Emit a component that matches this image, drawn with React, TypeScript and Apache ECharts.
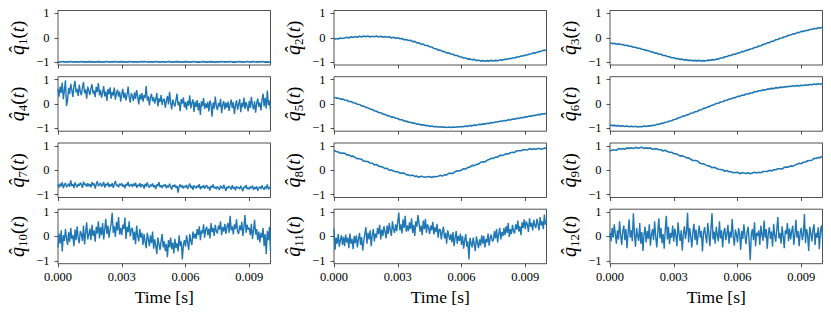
import React, { useEffect, useRef } from "react";
import * as echarts from "echarts";

// Sample times in milliseconds
const TIME_MS_COARSE = [
  0, 0.1, 0.2, 0.3, 0.4, 0.5, 0.6, 0.7, 0.8, 0.9, 1, 1.1, 1.2, 1.3, 1.4, 1.5, 1.6, 1.7, 1.8, 1.9,
  2, 2.1, 2.2, 2.3, 2.4, 2.5, 2.6, 2.7, 2.8, 2.9, 3, 3.1, 3.2, 3.3, 3.4, 3.5, 3.6, 3.7, 3.8, 3.9,
  4, 4.1, 4.2, 4.3, 4.4, 4.5, 4.6, 4.7, 4.8, 4.9, 5, 5.1, 5.2, 5.3, 5.4, 5.5, 5.6, 5.7, 5.8, 5.9,
  6, 6.1, 6.2, 6.3, 6.4, 6.5, 6.6, 6.7, 6.8, 6.9, 7, 7.1, 7.2, 7.3, 7.4, 7.5, 7.6, 7.7, 7.8, 7.9,
  8, 8.1, 8.2, 8.3, 8.4, 8.5, 8.6, 8.7, 8.8, 8.9, 9, 9.1, 9.2, 9.3, 9.4, 9.5, 9.6, 9.7, 9.8, 9.9,
  10,
];

const TIME_MS_FINE = [
  0, 0.05, 0.1, 0.15, 0.2, 0.25, 0.3, 0.35, 0.4, 0.45, 0.5, 0.55, 0.6, 0.65, 0.7, 0.75, 0.8, 0.85, 0.9, 0.95,
  1, 1.05, 1.1, 1.15, 1.2, 1.25, 1.3, 1.35, 1.4, 1.45, 1.5, 1.55, 1.6, 1.65, 1.7, 1.75, 1.8, 1.85, 1.9, 1.95,
  2, 2.05, 2.1, 2.15, 2.2, 2.25, 2.3, 2.35, 2.4, 2.45, 2.5, 2.55, 2.6, 2.65, 2.7, 2.75, 2.8, 2.85, 2.9, 2.95,
  3, 3.05, 3.1, 3.15, 3.2, 3.25, 3.3, 3.35, 3.4, 3.45, 3.5, 3.55, 3.6, 3.65, 3.7, 3.75, 3.8, 3.85, 3.9, 3.95,
  4, 4.05, 4.1, 4.15, 4.2, 4.25, 4.3, 4.35, 4.4, 4.45, 4.5, 4.55, 4.6, 4.65, 4.7, 4.75, 4.8, 4.85, 4.9, 4.95,
  5, 5.05, 5.1, 5.15, 5.2, 5.25, 5.3, 5.35, 5.4, 5.45, 5.5, 5.55, 5.6, 5.65, 5.7, 5.75, 5.8, 5.85, 5.9, 5.95,
  6, 6.05, 6.1, 6.15, 6.2, 6.25, 6.3, 6.35, 6.4, 6.45, 6.5, 6.55, 6.6, 6.65, 6.7, 6.75, 6.8, 6.85, 6.9, 6.95,
  7, 7.05, 7.1, 7.15, 7.2, 7.25, 7.3, 7.35, 7.4, 7.45, 7.5, 7.55, 7.6, 7.65, 7.7, 7.75, 7.8, 7.85, 7.9, 7.95,
  8, 8.05, 8.1, 8.15, 8.2, 8.25, 8.3, 8.35, 8.4, 8.45, 8.5, 8.55, 8.6, 8.65, 8.7, 8.75, 8.8, 8.85, 8.9, 8.95,
  9, 9.05, 9.1, 9.15, 9.2, 9.25, 9.3, 9.35, 9.4, 9.45, 9.5, 9.55, 9.6, 9.65, 9.7, 9.75, 9.8, 9.85, 9.9, 9.95,
  10,
];

const Q1 = [
  -0.99, -1.0, -0.98, -0.99, -1.0, -0.99, -0.98, -1.0, -0.99, -0.99,
  -1.0, -0.98, -0.99, -1.0, -0.99, -0.98, -0.99, -1.0, -0.99, -0.98,
  -0.99, -1.0, -0.99, -0.98, -1.0, -0.99, -0.99, -0.98, -1.0, -0.99,
  -0.98, -0.99, -1.0, -0.99, -0.98, -1.0, -0.99, -0.99, -1.0, -0.98,
  -0.99, -0.98, -1.0, -0.99, -0.99, -1.0, -0.98, -0.99, -1.0, -0.99,
  -0.99, -1.0, -0.98, -0.99, -1.0, -0.99, -0.98, -0.99, -1.0, -0.99,
  -0.98, -0.99, -1.0, -0.99, -0.98, -1.0, -0.99, -1.0, -0.98, -0.99,
  -1.0, -0.99, -0.98, -0.99, -1.0, -0.99, -0.99, -0.98, -1.0, -0.99,
  -0.99, -0.98, -1.0, -0.99, -1.0, -0.98, -0.99, -0.99, -1.0, -0.98,
  -1.0, -0.99, -0.98, -1.0, -0.99, -0.99, -0.98, -1.0, -0.99, -1.0,
  -0.99,
];

const Q2 = [
  -0.07, -0.03, -0.05, -0.01, -0.03, -0.01, 0.02, -0.01, 0.04, 0.01,
  0.05, 0.02, 0.06, 0.03, 0.07, 0.04, 0.07, 0.03, 0.06, 0.04,
  0.07, 0.03, 0.06, 0.02, 0.05, 0.02, 0.04, -0.01, 0.02, -0.02,
  0.0, -0.04, -0.03, -0.08, -0.07, -0.11, -0.1, -0.16, -0.15, -0.21,
  -0.21, -0.27, -0.26, -0.32, -0.32, -0.37, -0.38, -0.44, -0.45, -0.51,
  -0.51, -0.56, -0.57, -0.62, -0.62, -0.67, -0.68, -0.73, -0.73, -0.78,
  -0.79, -0.83, -0.83, -0.88, -0.87, -0.91, -0.89, -0.94, -0.92, -0.96,
  -0.94, -0.97, -0.94, -0.96, -0.93, -0.96, -0.93, -0.95, -0.91, -0.92,
  -0.89, -0.89, -0.86, -0.86, -0.83, -0.83, -0.79, -0.79, -0.75, -0.75,
  -0.71, -0.71, -0.67, -0.66, -0.62, -0.62, -0.58, -0.57, -0.53, -0.52,
  -0.49,
];

const Q3 = [
  -0.21, -0.24, -0.23, -0.27, -0.25, -0.28, -0.28, -0.32, -0.31, -0.35,
  -0.35, -0.39, -0.39, -0.43, -0.43, -0.47, -0.48, -0.52, -0.53, -0.57,
  -0.58, -0.63, -0.63, -0.68, -0.68, -0.73, -0.73, -0.77, -0.78, -0.82,
  -0.82, -0.86, -0.85, -0.89, -0.88, -0.92, -0.9, -0.93, -0.92, -0.95,
  -0.93, -0.95, -0.93, -0.96, -0.94, -0.95, -0.92, -0.93, -0.9, -0.91,
  -0.88, -0.88, -0.83, -0.83, -0.78, -0.78, -0.73, -0.73, -0.68, -0.68,
  -0.63, -0.62, -0.57, -0.57, -0.52, -0.51, -0.46, -0.45, -0.4, -0.39,
  -0.34, -0.33, -0.28, -0.26, -0.21, -0.2, -0.15, -0.14, -0.08, -0.07,
  -0.02, -0.01, 0.04, 0.05, 0.1, 0.11, 0.16, 0.16, 0.21, 0.21,
  0.26, 0.26, 0.3, 0.3, 0.34, 0.34, 0.38, 0.37, 0.41, 0.4,
  0.43,
];

const Q4 = [
  0.62, 0.3, 0.71, 0.45, 0.88, 0.2, 0.55, 0.97, -0.08, 0.15,
  0.66, 0.41, 0.83, 0.58, 0.29, 0.74, 0.95, 0.47, 0.62, 0.33,
  0.79, 0.5, 0.36, 0.69, 0.9, 0.44, 0.6, 0.22, 0.71, 0.53,
  0.37, 0.64, 0.81, 0.42, 0.55, 0.28, 0.7, 0.49, 0.86, 0.35,
  0.58, 0.26, 0.47, 0.73, 0.31, 0.52, 0.12, 0.61, 0.39, 0.68,
  0.22, 0.49, 0.35, 0.67, 0.18, 0.43, 0.59, 0.3, 0.51, 0.09,
  0.41, 0.62, 0.24, 0.46, 0.15, 0.38, 0.71, 0.28, 0.05, 0.44,
  0.33, 0.12, 0.48, 0.21, 0.57, 0.3, -0.02, 0.39, 0.18, 0.45,
  0.09, 0.36, 0.25, 0.74, 0.14, 0.31, -0.06, 0.27, 0.42, 0.11,
  0.28, 0.02, 0.19, 0.45, -0.1, 0.23, 0.08, 0.36, -0.04, 0.17,
  0.21, -0.15, 0.12, 0.33, -0.02, 0.5, 0.06, -0.22, 0.18, 0.03,
  -0.11, 0.15, 0.42, -0.05, 0.09, -0.3, 0.2, 0.01, 0.27, -0.14,
  0.08, -0.24, 0.13, -0.07, 0.35, -0.18, 0.04, 0.19, -0.33, 0.1,
  -0.12, 0.16, -0.27, 0.05, -0.45, 0.11, -0.09, 0.24, -0.2, 0.02,
  -0.16, 0.09, -0.31, 0.14, -0.02, -0.52, 0.06, -0.19, 0.3, -0.08,
  -0.25, 0.03, -0.11, 0.21, -0.38, -0.04, 0.12, -0.22, 0.05, -0.15,
  0.1, -0.29, -0.03, 0.18, -0.17, 0.07, -0.41, -0.06, 0.15, -0.24,
  -0.01, 0.2, -0.34, 0.04, -0.13, 0.26, -0.2, 0.08, -0.09, -0.3,
  0.13, -0.16, 0.29, -0.05, -0.22, 0.11, -0.36, 0.03, 0.22, -0.12,
  0.06, -0.27, 0.17, 0.42, -0.1, 0.25, -0.19, 0.55, -0.05, 0.14,
  -0.28,
];

const Q5 = [
  0.28, 0.24, 0.24, 0.2, 0.2, 0.16, 0.15, 0.1, 0.1, 0.05,
  0.04, -0.01, -0.02, -0.08, -0.09, -0.14, -0.16, -0.21, -0.23, -0.28,
  -0.3, -0.35, -0.36, -0.42, -0.43, -0.48, -0.49, -0.54, -0.54, -0.59,
  -0.6, -0.65, -0.65, -0.7, -0.7, -0.75, -0.75, -0.79, -0.79, -0.83,
  -0.83, -0.86, -0.86, -0.89, -0.89, -0.92, -0.91, -0.94, -0.93, -0.95,
  -0.94, -0.96, -0.95, -0.97, -0.95, -0.97, -0.95, -0.96, -0.94, -0.95,
  -0.93, -0.94, -0.91, -0.92, -0.89, -0.9, -0.87, -0.88, -0.84, -0.85,
  -0.82, -0.83, -0.79, -0.8, -0.76, -0.77, -0.74, -0.74, -0.71, -0.71,
  -0.68, -0.69, -0.65, -0.66, -0.62, -0.63, -0.59, -0.6, -0.56, -0.57,
  -0.53, -0.53, -0.5, -0.5, -0.47, -0.47, -0.43, -0.44, -0.4, -0.41,
  -0.38,
];

const Q6 = [
  -0.86, -0.89, -0.88, -0.9, -0.89, -0.92, -0.9, -0.93, -0.91, -0.94,
  -0.92, -0.94, -0.92, -0.95, -0.93, -0.94, -0.91, -0.93, -0.9, -0.91,
  -0.88, -0.88, -0.84, -0.84, -0.8, -0.8, -0.75, -0.74, -0.7, -0.69,
  -0.64, -0.63, -0.58, -0.56, -0.51, -0.5, -0.45, -0.44, -0.38, -0.37,
  -0.32, -0.31, -0.25, -0.24, -0.18, -0.17, -0.12, -0.1, -0.05, -0.03,
  0.02, 0.03, 0.08, 0.09, 0.14, 0.15, 0.2, 0.21, 0.25, 0.26,
  0.31, 0.31, 0.36, 0.36, 0.41, 0.41, 0.45, 0.45, 0.5, 0.5,
  0.54, 0.54, 0.58, 0.57, 0.61, 0.61, 0.64, 0.63, 0.67, 0.66,
  0.69, 0.68, 0.71, 0.7, 0.73, 0.72, 0.75, 0.73, 0.76, 0.74,
  0.77, 0.76, 0.79, 0.77, 0.8, 0.79, 0.82, 0.8, 0.83, 0.81,
  0.84,
];

const Q7 = [
  -0.58, -0.71, -0.55, -0.66, -0.49, -0.74, -0.6, -0.52, -0.69, -0.63,
  -0.55, -0.68, -0.42, -0.64, -0.57, -0.73, -0.5, -0.62, -0.7, -0.56,
  -0.64, -0.51, -0.59, -0.72, -0.47, -0.61, -0.55, -0.68, -0.53, -0.66,
  -0.57, -0.7, -0.49, -0.62, -0.54, -0.75, -0.58, -0.45, -0.65, -0.6,
  -0.52, -0.67, -0.61, -0.48, -0.71, -0.56, -0.63, -0.5, -0.69, -0.58,
  -0.66, -0.53, -0.72, -0.57, -0.44, -0.64, -0.6, -0.7, -0.55, -0.62,
  -0.54, -0.68, -0.59, -0.74, -0.56, -0.63, -0.48, -0.67, -0.61, -0.57,
  -0.69, -0.55, -0.64, -0.51, -0.72, -0.6, -0.66, -0.53, -0.7, -0.58,
  -0.62, -0.75, -0.56, -0.67, -0.5, -0.64, -0.71, -0.59, -0.66, -0.54,
  -0.7, -0.61, -0.77, -0.58, -0.65, -0.49, -0.69, -0.62, -0.73, -0.6,
  -0.66, -0.57, -0.74, -0.63, -0.7, -0.55, -0.68, -0.79, -0.61, -0.67,
  -0.59, -0.72, -0.64, -0.92, -0.66, -0.58, -0.71, -0.62, -0.75, -0.65,
  -0.7, -0.6, -0.77, -0.66, -0.55, -0.73, -0.64, -0.8, -0.62, -0.69,
  -0.74, -0.63, -0.71, -0.57, -0.79, -0.67, -0.72, -0.61, -0.76, -0.66,
  -0.62, -0.75, -0.68, -0.83, -0.64, -0.71, -0.58, -0.74, -0.69, -0.78,
  -0.66, -0.73, -0.81, -0.63, -0.7, -0.76, -0.6, -0.72, -0.85, -0.68,
  -0.74, -0.65, -0.71, -0.79, -0.62, -0.75, -0.69, -0.82, -0.66, -0.73,
  -0.7, -0.78, -0.64, -0.74, -0.86, -0.68, -0.72, -0.61, -0.77, -0.71,
  -0.79, -0.67, -0.74, -0.63, -0.81, -0.7, -0.76, -0.66, -0.84, -0.72,
  -0.68, -0.77, -0.62, -0.73, -0.8, -0.67, -0.75, -0.58, -0.79, -0.7,
  -0.76,
];

const Q8 = [
  0.82, 0.77, 0.75, 0.7, 0.71, 0.7, 0.63, 0.63, 0.57, 0.58,
  0.52, 0.47, 0.47, 0.45, 0.37, 0.37, 0.35, 0.3, 0.29, 0.22,
  0.24, 0.17, 0.15, 0.13, 0.07, 0.08, 0.0, 0.01, -0.03, -0.06,
  -0.06, -0.12, -0.12, -0.12, -0.18, -0.19, -0.23, -0.2, -0.25, -0.24,
  -0.29, -0.25, -0.27, -0.29, -0.27, -0.26, -0.3, -0.26, -0.27, -0.25,
  -0.21, -0.24, -0.19, -0.19, -0.13, -0.13, -0.13, -0.06, -0.02, -0.03,
  0.01, 0.06, 0.05, 0.12, 0.13, 0.2, 0.19, 0.24, 0.25, 0.33,
  0.35, 0.34, 0.41, 0.44, 0.49, 0.49, 0.54, 0.54, 0.61, 0.61,
  0.63, 0.68, 0.67, 0.72, 0.74, 0.73, 0.8, 0.8, 0.8, 0.84,
  0.84, 0.83, 0.89, 0.85, 0.88, 0.86, 0.9, 0.88, 0.87, 0.91,
  0.9,
];

const Q9 = [
  0.79, 0.83, 0.83, 0.82, 0.89, 0.86, 0.89, 0.86, 0.92, 0.9,
  0.92, 0.89, 0.94, 0.91, 0.92, 0.95, 0.9, 0.92, 0.9, 0.92,
  0.86, 0.88, 0.88, 0.84, 0.84, 0.79, 0.82, 0.77, 0.74, 0.74,
  0.68, 0.68, 0.64, 0.58, 0.6, 0.56, 0.51, 0.51, 0.45, 0.4,
  0.4, 0.39, 0.31, 0.27, 0.27, 0.22, 0.18, 0.17, 0.1, 0.12,
  0.08, 0.04, 0.03, 0.02, -0.04, -0.01, -0.06, -0.06, -0.1, -0.09,
  -0.08, -0.14, -0.1, -0.11, -0.13, -0.1, -0.14, -0.11, -0.08, -0.11,
  -0.08, -0.1, -0.05, -0.05, -0.05, 0.0, -0.03, 0.02, 0.02, 0.06,
  0.06, 0.05, 0.12, 0.13, 0.13, 0.18, 0.16, 0.21, 0.25, 0.29,
  0.27, 0.33, 0.34, 0.39, 0.4, 0.41, 0.49, 0.48, 0.52, 0.52,
  0.58,
];

const Q10 = [
  -0.45, 0.12, -0.3, 0.25, -0.62, 0.05, -0.18, 0.3, -0.08, -0.35,
  0.18, -0.22, 0.35, -0.1, 0.05, -0.4, 0.28, -0.15, 0.42, -0.05,
  -0.28, 0.22, 0.1, -0.18, 0.45, -0.33, 0.15, 0.58, -0.12, 0.08,
  0.32, -0.15, 0.48, 0.02, 0.25, -0.22, 0.4, 0.12, 0.62, -0.08,
  0.38, 0.05, 0.55, -0.12, 0.3, 0.72, 0.1, 0.45, -0.05, 0.28,
  0.5, 0.97, 0.15, 0.42, -0.02, 0.6, 0.25, 0.8, 0.08, 0.35,
  0.05, 0.48, 0.3, 0.78, -0.1, 0.4, 0.18, 0.62, 0.0, 0.28,
  0.35, -0.15, 0.2, -0.32, 0.45, 0.02, -0.2, 0.3, -0.05, 0.15,
  -0.35, 0.1, -0.22, -0.48, 0.15, -0.1, -0.4, 0.05, -0.28, 0.2,
  -0.5, -0.12, -0.38, -0.72, -0.05, -0.3, -0.55, -0.2, 0.1, -0.45,
  -0.2, -0.6, -0.3, -0.85, -0.15, -0.45, -0.05, -0.52, -0.25, -0.7,
  -0.1, -0.48, -0.28, -0.62, 0.05, -0.4, -0.2, -0.95, -0.35, -0.15,
  -0.42, 0.05, -0.25, -0.55, 0.1, -0.18, -0.35, 0.2, -0.08, 0.12,
  -0.1, 0.3, 0.05, 0.42, -0.15, 0.25, 0.12, 0.5, -0.05, 0.28,
  0.4, 0.05, 0.32, -0.08, 0.55, 0.18, 0.35, 0.02, 0.48, 0.22,
  0.12, 0.45, 0.28, 0.62, 0.05, 0.38, 0.2, 0.52, 0.1, 0.4,
  0.55, 0.15, 0.85, 0.25, 0.42, 0.08, 0.5, 0.3, 0.7, 0.2,
  0.1, 0.45, 0.25, 0.6, 0.02, 0.38, 0.88, 0.15, 0.48, 0.28,
  0.35, 0.05, 0.52, -0.1, 0.25, 0.68, 0.08, 0.3, -0.15, 0.2,
  -0.25, 0.15, -0.05, 0.35, -0.4, 0.1, -0.72, 0.22, -0.15, 0.4,
  -0.6,
];

const Q11 = [
  0.32, -0.55, -0.05, -0.3, 0.1, -0.42, -0.15, 0.05, -0.35, -0.02,
  -0.4, 0.08, -0.25, -0.05, -0.48, 0.12, -0.3, -0.1, -0.52, 0.02,
  -0.28, 0.05, -0.45, -0.12, 0.15, -0.35, -0.02, -0.58, -0.18, 0.1,
  0.38, -0.3, 0.15, -0.12, 0.25, -0.4, 0.05, 0.3, -0.2, 0.12,
  -0.05, 0.35, 0.1, 0.48, -0.12, 0.28, 0.02, 0.42, 0.2, -0.08,
  0.45, 0.1, 0.55, 0.25, 0.02, 0.62, 0.3, 0.15, 0.5, 0.22,
  0.6, 0.98, 0.25, 0.5, 0.12, 0.7, 0.35, 0.85, 0.2, 0.45,
  0.22, 0.58, 0.3, 0.75, 0.15, 0.48, 0.02, 0.62, 0.4, 0.88,
  0.55, 0.2, 0.45, 0.05, 0.65, 0.3, 0.72, 0.15, 0.5, 0.35,
  0.1, 0.45, 0.25, 0.6, 0.08, 0.38, 0.18, 0.52, -0.05, 0.3,
  0.28, -0.12, 0.2, 0.4, -0.08, 0.15, -0.3, 0.25, 0.05, -0.15,
  0.1, -0.25, 0.18, -0.4, -0.05, 0.22, -0.3, 0.02, -0.18, 0.12,
  -0.35, 0.02, -0.5, -0.15, 0.1, -0.42, -0.2, -0.95, -0.05, -0.28,
  -0.45, -0.05, -0.32, -0.6, 0.0, -0.25, -0.48, -0.12, -0.38, 0.05,
  -0.3, 0.02, -0.45, -0.1, -0.25, 0.12, -0.38, -0.05, 0.08, -0.2,
  -0.15, 0.22, -0.08, 0.3, -0.25, 0.1, 0.35, -0.12, 0.18, 0.02,
  0.35, 0.05, 0.42, 0.15, 0.55, -0.02, 0.3, 0.1, 0.48, 0.22,
  0.12, 0.5, 0.28, 0.65, 0.2, 0.42, 0.05, 0.58, 0.35, 0.7,
  0.3, 0.62, 0.48, 0.18, 0.75, 0.4, 0.55, 0.25, 0.68, 0.45,
  0.35, 0.72, 0.52, 0.25, 0.8, 0.45, 0.62, 0.3, 0.9, 0.48,
  0.6,
];

const Q12 = [
  0.15, -0.2, 0.35, -0.05, 0.5, 0.1, -0.3, 0.25, -0.12, 0.62,
  0.05, -0.35, 0.2, 0.45, -0.15, 0.3, -0.48, 0.12, 0.7, -0.05,
  0.25, -0.2, 0.95, 0.1, -0.42, 0.35, 0.02, -0.18, 0.55, -0.3,
  0.18, -0.6, 0.08, 0.4, -0.25, 0.22, -0.1, 0.5, -0.38, 0.05,
  0.3, -0.15, 0.62, 0.0, -0.45, 0.2, 0.75, -0.08, 0.35, -0.28,
  0.1, -0.5, 0.28, 0.85, -0.12, 0.4, -0.32, 0.15, -0.05, 0.45,
  -0.22, 0.32, 0.05, -0.4, 0.58, 0.12, -0.18, 0.25, -0.58, 0.08,
  0.42, -0.1, 0.2, 0.97, -0.25, 0.35, 0.0, -0.45, 0.18, 0.52,
  -0.15, 0.28, -0.35, 0.1, 0.45, -0.05, 0.22, -0.62, 0.12, 0.38,
  0.02, -0.28, 0.55, 0.15, -0.4, 0.3, 0.95, -0.12, 0.2, -0.3,
  0.4, 0.05, -0.2, 0.62, -0.08, 0.25, -0.45, 0.15, 0.35, -0.15,
  0.1, 0.48, -0.3, 0.2, -0.05, 0.72, 0.0, -0.38, 0.28, 0.08,
  -0.25, 0.35, 0.12, -0.55, 0.22, -0.1, 0.5, 0.05, -0.32, 0.18,
  0.4, -0.2, -0.98, 0.1, 0.3, -0.15, 0.58, -0.4, 0.15, 0.02,
  0.25, -0.35, 0.45, 0.08, -0.18, 0.65, -0.05, 0.3, -0.5, 0.12,
  0.38, -0.1, 0.2, -0.42, 0.52, 0.05, -0.22, 0.3, 0.8, -0.08,
  0.15, -0.3, 0.42, 0.0, -0.48, 0.25, 0.1, 0.55, -0.2, 0.32,
  -0.12, 0.2, 0.45, -0.35, 0.08, 0.68, -0.05, 0.22, -0.4, 0.15,
  0.35, -0.15, 0.1, 0.92, -0.28, 0.3, 0.05, -0.6, 0.4, 0.12,
  -0.2, 0.28, 0.5, -0.35, 0.15, -0.05, 0.38, -0.52, 0.22, 0.45,
  -0.1,
];

const PANEL_SUBSCRIPTS = ["1", "2", "3", "4", "5", "6", "7", "8", "9", "10", "11", "12"];
const PANEL_VALUES = [Q1, Q2, Q3, Q4, Q5, Q6, Q7, Q8, Q9, Q10, Q11, Q12];
const PANEL_TIMES = [
  TIME_MS_COARSE, TIME_MS_COARSE, TIME_MS_COARSE,
  TIME_MS_FINE, TIME_MS_COARSE, TIME_MS_COARSE,
  TIME_MS_FINE, TIME_MS_COARSE, TIME_MS_COARSE,
  TIME_MS_FINE, TIME_MS_FINE, TIME_MS_FINE,
];

const X_TICK_VALUES = [0, 3, 6, 9];
const X_TICK_LABELS = ["0.000", "0.003", "0.006", "0.009"];
const Y_TICK_VALUES = [-1, 0, 1];
const Y_TICK_LABELS = ["\u22121", "0", "1"];
const X_TITLE = "Time [s]";

const COL_LEFT = [58, 334, 610];
const ROW_TOP = [10.5, 76.7, 143, 209.2];
const PANEL_W = 212.5;
const PANEL_H = 54.5;
const SERIF = "Liberation Serif";
const INK = "#262626";

export default function App() {
  const ref = useRef<HTMLDivElement>(null);

  useEffect(() => {
    if (!ref.current) return;
    const chart = echarts.init(ref.current, undefined, { renderer: "svg" });

    const grid: any[] = [];
    const xAxis: any[] = [];
    const yAxis: any[] = [];
    const series: any[] = [];

    PANEL_VALUES.forEach((values, i) => {
      const row = Math.floor(i / 3);
      const col = i % 3;
      const isBottom = row === 3;
      const times = PANEL_TIMES[i];
      const fine = times === TIME_MS_FINE;
      grid.push({
        left: COL_LEFT[col],
        top: ROW_TOP[row],
        width: PANEL_W,
        height: PANEL_H,
        show: true,
        borderColor: INK,
        borderWidth: 0.8,
        backgroundColor: "transparent",
        containLabel: false,
      });
      xAxis.push({
        type: "value",
        gridIndex: i,
        position: "bottom",
        min: 0,
        max: 10,
        splitLine: { show: false },
        axisLine: { show: false, onZero: false },
        axisTick: {
          show: true,
          customValues: X_TICK_VALUES,
          length: 3.5,
          lineStyle: { color: INK, width: 0.8 },
        },
        axisLabel: {
          show: isBottom,
          customValues: X_TICK_VALUES,
          formatter: (v: number) => X_TICK_LABELS[X_TICK_VALUES.indexOf(v)] ?? "",
          fontFamily: SERIF,
          fontSize: 12.5,
          color: "#000",
          margin: 7,
        },
        name: isBottom ? X_TITLE : "",
        nameLocation: "middle",
        nameGap: 24,
        nameTextStyle: { fontFamily: SERIF, fontSize: 17.5, color: "#000" },
      });
      yAxis.push({
        type: "value",
        gridIndex: i,
        position: "left",
        min: -1.12,
        max: 1.12,
        splitLine: { show: false },
        axisLine: { show: false, onZero: false },
        axisTick: {
          show: true,
          customValues: Y_TICK_VALUES,
          length: 3.5,
          lineStyle: { color: INK, width: 0.8 },
        },
        axisLabel: {
          show: true,
          customValues: Y_TICK_VALUES,
          formatter: (v: number) => Y_TICK_LABELS[Y_TICK_VALUES.indexOf(v)] ?? "",
          fontFamily: SERIF,
          fontSize: 12.5,
          color: "#000",
          margin: 8.5,
        },
        name: `{q|q\u0302}{s|${PANEL_SUBSCRIPTS[i]}}{p|(}{t|t}{p|)}`,
        nameLocation: "middle",
        nameRotate: 90,
        nameGap: 29,
        nameTextStyle: {
          fontFamily: SERIF,
          color: "#000",
          rich: {
            q: { fontFamily: SERIF, fontStyle: "italic", fontSize: 20, lineHeight: 24, color: "#000" },
            s: { fontFamily: SERIF, fontSize: 13, lineHeight: 13, verticalAlign: "bottom", color: "#000" },
            p: { fontFamily: SERIF, fontSize: 19, lineHeight: 24, color: "#000" },
            t: { fontFamily: SERIF, fontStyle: "italic", fontSize: 19, lineHeight: 24, color: "#000" },
          },
        },
      });
      series.push({
        type: "line",
        xAxisIndex: i,
        yAxisIndex: i,
        data: times.map((t, k) => [t, values[k]]),
        showSymbol: false,
        symbol: "none",
        silent: true,
        lineStyle: { color: "#1f77b4", width: fine ? 1.4 : 1.6 },
      });
    });

    chart.setOption({
      animation: false,
      backgroundColor: "#ffffff",
      grid,
      xAxis,
      yAxis,
      series,
    });

    return () => {
      chart.dispose();
    };
  }, []);

  return (
    <div
      ref={ref}
      style={{ position: "fixed", left: 0, top: 0, width: 831, height: 317 }}
    />
  );
}
